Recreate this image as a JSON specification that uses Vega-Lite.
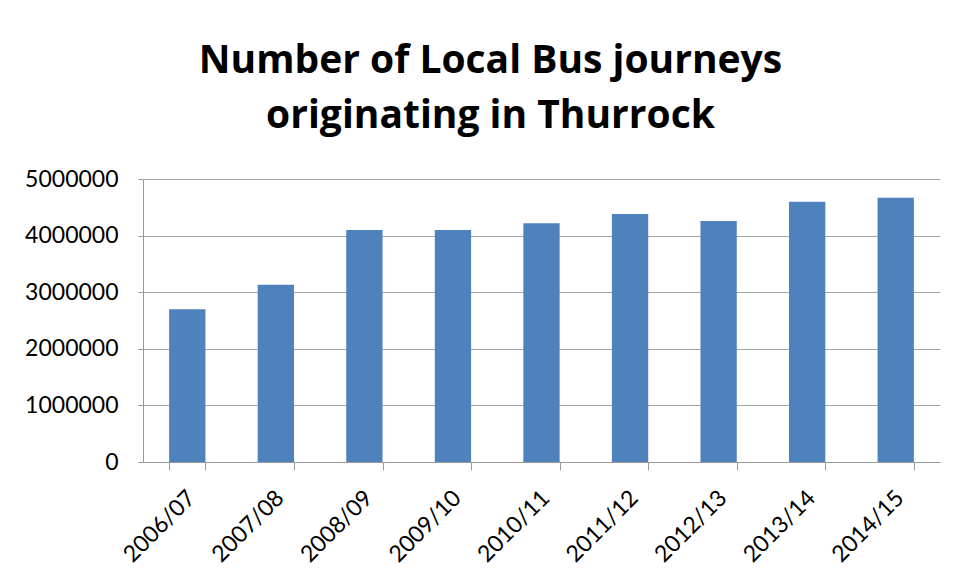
{
  "$schema": "https://vega.github.io/schema/vega-lite/v6.json",
  "width": 797,
  "height": 283,
  "autosize": {"type": "none"},
  "padding": {"left": 143, "top": 179, "right": 16, "bottom": 119},
  "background": "white",
  "title": {
    "text": ["Number of Local Bus journeys", "originating in Thurrock"],
    "font": "Open Sans",
    "fontSize": 39,
    "fontWeight": "bold",
    "color": "#000000",
    "lineHeight": 55,
    "anchor": "middle",
    "dx": -51,
    "offset": 32
  },
  "data": {
    "values": [
      {"year": "2006/07", "journeys": 2700000},
      {"year": "2007/08", "journeys": 3130000},
      {"year": "2008/09", "journeys": 4100000},
      {"year": "2009/10", "journeys": 4100000},
      {"year": "2010/11", "journeys": 4220000},
      {"year": "2011/12", "journeys": 4380000},
      {"year": "2012/13", "journeys": 4260000},
      {"year": "2013/14", "journeys": 4600000},
      {"year": "2014/15", "journeys": 4670000}
    ]
  },
  "mark": {"type": "bar", "color": "#4F81BD"},
  "encoding": {
    "x": {
      "field": "year",
      "type": "nominal",
      "sort": null,
      "scale": {"paddingInner": 0.59, "paddingOuter": 0.295},
      "axis": {
        "title": null,
        "labelAngle": -45,
        "labelAlign": "right",
        "labelBaseline": "middle",
        "labelFont": "Lato",
        "labelFontSize": 23,
        "labelColor": "#000000",
        "labelPadding": 24,
        "labelOffset": 4,
        "tickBand": "extent",
        "tickSize": 8,
        "tickColor": "#9a9a9a",
        "domainColor": "#9a9a9a",
        "grid": false
      }
    },
    "y": {
      "field": "journeys",
      "type": "quantitative",
      "scale": {"domain": [0, 5000000], "nice": false},
      "axis": {
        "title": null,
        "values": [0, 1000000, 2000000, 3000000, 4000000, 5000000],
        "format": "d",
        "labelFont": "Lato",
        "labelFontSize": 23,
        "labelColor": "#000000",
        "labelPadding": 20,
        "tickSize": 5,
        "tickColor": "#9a9a9a",
        "domainColor": "#9a9a9a",
        "gridColor": "#a6a6a6",
        "grid": true
      }
    }
  },
  "config": {
    "view": {"stroke": null}
  }
}
